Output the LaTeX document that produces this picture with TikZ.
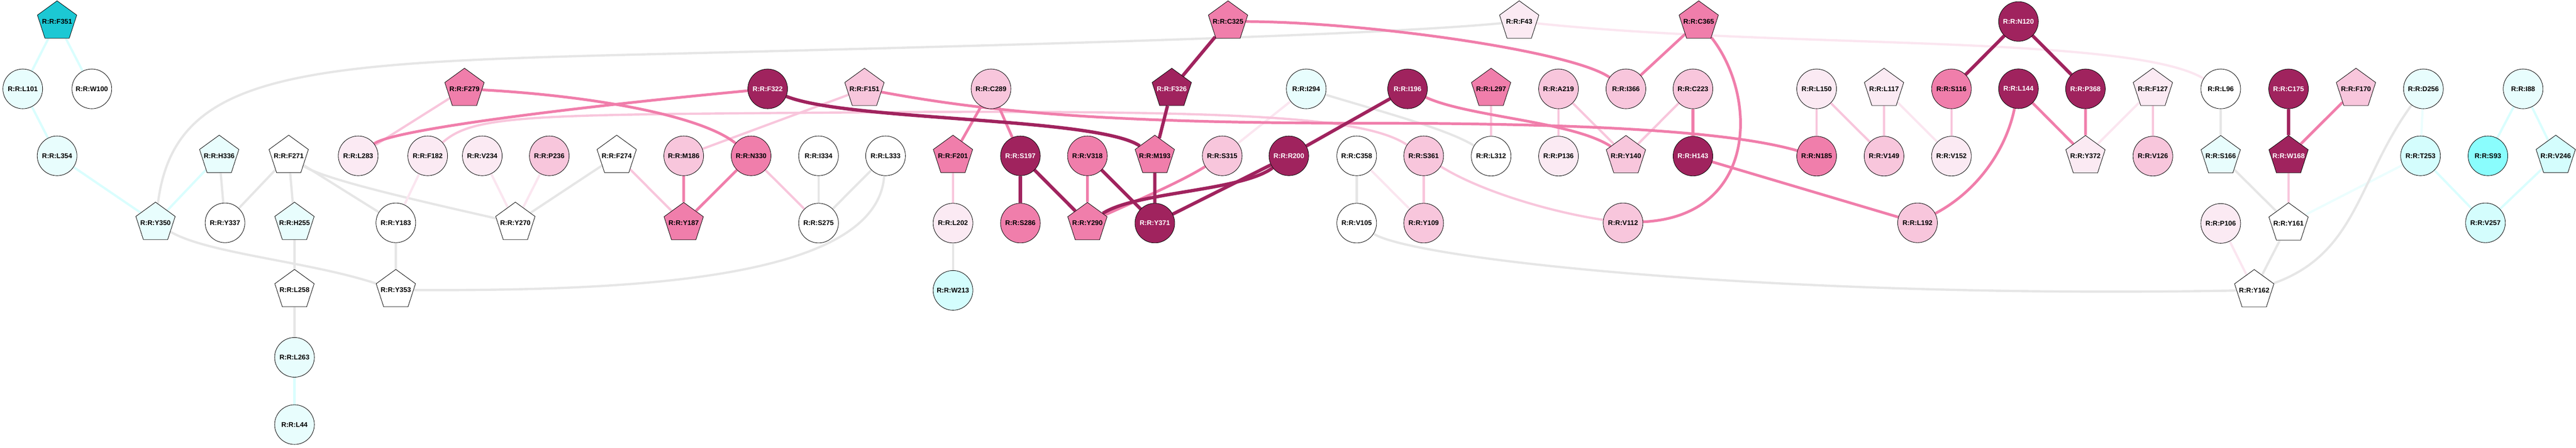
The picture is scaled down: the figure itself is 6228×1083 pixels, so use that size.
\documentclass[tikz,border=0pt]{standalone}
\usepackage{fontspec}
\setmainfont{Liberation Sans}
\usetikzlibrary{positioning,shapes.geometric,backgrounds}

\definecolor{cyfullc}{HTML}{1CC8D4}
\definecolor{cymdc}{HTML}{8AFDFD}
\definecolor{cyltc}{HTML}{D4FDFD}
\definecolor{cyvlc}{HTML}{E8FDFD}
\definecolor{pkvlc}{HTML}{FBEAF3}
\definecolor{pkltc}{HTML}{F8C6DC}
\definecolor{pkmdc}{HTML}{F07EAB}
\definecolor{pkdkc}{HTML}{A0235E}
\definecolor{edgegray}{HTML}{E6E6E6}
\definecolor{edgecyan}{HTML}{DAFEFE}
\definecolor{edgecyanvl}{HTML}{ECFEFE}
\definecolor{edgepinkvl}{HTML}{FBE6F0}

\tikzset{
  res/.style={circle, draw=black, line width=0.6pt, minimum size=19.2mm, inner sep=0pt,
    font=\fontsize{9.4}{11}\selectfont\bfseries, fill=white},
  pent/.style={res, regular polygon, regular polygon sides=5, inner xsep=-4mm, minimum size=20mm},
  wht/.style={fill=white},
  cyvl/.style={fill=cyvlc},
  cylt/.style={fill=cyltc},
  cymd/.style={fill=cymdc},
  cyfull/.style={fill=cyfullc},
  pkvl/.style={fill=pkvlc},
  pklt/.style={fill=pkltc},
  pkmd/.style={fill=pkmdc},
  pkdk/.style={fill=pkdkc, text=white},
  eg/.style={draw=edgegray, line width=1.1mm},
  ec/.style={draw=edgecyan, line width=1.1mm},
  ecv/.style={draw=edgecyanvl, line width=1.1mm},
  epv/.style={draw=edgepinkvl, line width=1.1mm},
  epl/.style={draw=pkltc, line width=1.1mm},
  epm/.style={draw=pkmdc, line width=1.3mm},
  epd/.style={draw=pkdkc, line width=1.6mm}
}

\begin{document}
\begin{tikzpicture}[x=0.2mm, y=0.2mm, node distance=32.54mm]
      \useasboundingbox (0,0) rectangle (6228,1083);

      \node[pent, cyfull] (f351) at (138,1031) {R:R:F351};
      \node[pent, pkmd] (c325) at (2969,1031) {R:R:C325};
      \node[pent, pkvl] (f43) at (3673,1031) {R:R:F43};
      \node[pent, pkmd] (c365) at (4107,1031) {R:R:C365};
      \node[res, pkdk] (n120) at (4880,1031) {R:R:N120};

      \node[res, cyvl] (l101) at (55,868) {R:R:L101};
      \node[res, wht] (w100) at (222,868) {R:R:W100};
      \node[pent, pkmd] (f279) at (1123,868) {R:R:F279};
      \node[res, pkdk] (f322) at (1856,868) {R:R:F322};
      \node[pent, pklt] (f151) at (2090,868) {R:R:F151};
      \node[res, pklt] (c289) at (2396,868) {R:R:C289};
      \node[pent, pkdk] (f326) at (2833,868) {R:R:F326};
      \node[res, cyvl] (i294) at (3158,868) {R:R:I294};
      \node[res, pkdk] (i196) at (3403,868) {R:R:I196};
      \node[pent, pkmd] (l297) at (3605,868) {R:R:L297};
      \node[res, pklt] (a219) at (3768,868) {R:R:A219};
      \node[res, pklt] (i366) at (3931,868) {R:R:I366};
      \node[res, pklt] (c223) at (4093,868) {R:R:C223};
      \node[res, pkvl] (l150) at (4392,868) {R:R:L150};
      \node[pent, pkvl] (l117) at (4555,868) {R:R:L117};
      \node[res, pkmd] (s116) at (4718,868) {R:R:S116};
      \node[res, pkdk, below of=n120] (l144) {R:R:L144};
      \node[res, pkdk] (p368) at (5042,868) {R:R:P368};
      \node[pent, pkvl] (f127) at (5205,868) {R:R:F127};
      \node[res, wht] (l96) at (5369,868) {R:R:L96};
      \node[res, pkdk] (c175) at (5533,868) {R:R:C175};
      \node[pent, pklt] (f170) at (5696,868) {R:R:F170};
      \node[res, cyvl] (d256) at (5859,868) {R:R:D256};
      \node[res, cyvl] (i88) at (6100,868) {R:R:I88};

      \node[res, cyvl] (l354) at (138,706) {R:R:L354};
      \node[pent, cyvl] (h336) at (530,706) {R:R:H336};
      \node[pent, wht] (f271) at (698,706) {R:R:F271};
      \node[res, pkvl] (l283) at (866,706) {R:R:L283};
      \node[res, pkvl] (f182) at (1034,706) {R:R:F182};
      \node[res, pkvl] (v234) at (1166,706) {R:R:V234};
      \node[res, pklt] (p236) at (1328,706) {R:R:P236};
      \node[pent, wht] (f274) at (1491,706) {R:R:F274};
      \node[res, pklt] (m186) at (1653,706) {R:R:M186};
      \node[res, pkmd] (n330) at (1816,706) {R:R:N330};
      \node[res, wht] (i334) at (1979,706) {R:R:I334};
      \node[res, wht] (l333) at (2141,706) {R:R:L333};
      \node[pent, pkmd] (f201) at (2304,706) {R:R:F201};
      \node[res, pkdk] (s197) at (2467,706) {R:R:S197};
      \node[res, pkmd] (v318) at (2629,706) {R:R:V318};
      \node[pent, pkmd] (m193) at (2792,706) {R:R:M193};
      \node[res, pklt] (s315) at (2955,706) {R:R:S315};
      \node[res, pkdk] (r200) at (3116,706) {R:R:R200};
      \node[res, wht] (c358) at (3280,706) {R:R:C358};
      \node[res, pklt] (s361) at (3442,706) {R:R:S361};
      \node[res, wht, below of=l297] (l312) {R:R:L312};
      \node[res, pkvl, below of=a219] (p136) {R:R:P136};
      \node[pent, pklt, below of=i366] (y140) {R:R:Y140};
      \node[res, pkdk, below of=c223] (h143) {R:R:H143};
      \node[res, pkmd, below of=l150] (n185) {R:R:N185};
      \node[res, pklt, below of=l117] (v149) {R:R:V149};
      \node[res, pkvl, below of=s116] (v152) {R:R:V152};
      \node[pent, pkvl, below of=p368] (y372) {R:R:Y372};
      \node[res, pklt, below of=f127] (v126) {R:R:V126};
      \node[pent, cyvl, below of=l96] (s166) {R:R:S166};
      \node[pent, pkdk, below of=c175] (w168) {R:R:W168};
      \node[res, cylt] (t253) at (5852,706) {R:R:T253};
      \node[res, cymd] (s93) at (6015,706) {R:R:S93};
      \node[pent, cylt] (v246) at (6179,706) {R:R:V246};

      \node[pent, cyvl] (y350) at (376,544) {R:R:Y350};
      \node[res, wht] (y337) at (544,544) {R:R:Y337};
      \node[pent, cyvl] (h255) at (712,544) {R:R:H255};
      \node[res, wht] (y183) at (957,544) {R:R:Y183};
      \node[pent, wht] (y270) at (1246,544) {R:R:Y270};
      \node[pent, pkmd, below of=m186] (y187) {R:R:Y187};
      \node[res, wht, below of=i334] (s275) {R:R:S275};
      \node[res, pkvl, below of=f201] (l202) {R:R:L202};
      \node[res, pkmd, below of=s197] (s286) {R:R:S286};
      \node[pent, pkmd, below of=v318] (y290) {R:R:Y290};
      \node[res, pkdk, below of=m193] (y371) {R:R:Y371};
      \node[res, wht, below of=c358] (v105) {R:R:V105};
      \node[res, pklt, below of=s361] (y109) {R:R:Y109};
      \node[res, pklt] (v112) at (3924,544) {R:R:V112};
      \node[res, pklt] (l192) at (4636,544) {R:R:L192};
      \node[res, pkvl, below of=s166] (p106) {R:R:P106};
      \node[pent, wht, below of=w168] (y161) {R:R:Y161};
      \node[res, cylt] (v257) at (6009,544) {R:R:V257};

      \node[pent, wht, below of=h255] (l258) {R:R:L258};
      \node[pent, wht, below of=y183] (y353) {R:R:Y353};
      \node[res, cylt, below of=l202] (w213) {R:R:W213};
      \node[pent, wht] (y162) at (5450,381) {R:R:Y162};
      \node[res, cyvl, below of=l258] (l263) {R:R:L263};
      \node[res, cyvl, below of=l263] (l44) {R:R:L44};

      \begin{scope}[on background layer]
      \draw[ec] (f351)--(l101);
      \draw[ec] (f351)--(w100);
      \draw[ec] (l101)--(l354);
      \draw[ec] (l354)--(y350);
      \draw[ec] (h336)--(y350);
      \draw[ec] (l263)--(l44);
      \draw[ec] (i88)--(s93);
      \draw[ec] (i88)--(v246);
      \draw[ec] (t253)--(v257);
      \draw[ec] (v246)--(v257);
      \draw[ecv] (d256)--(t253);
      \draw[ecv] (t253)--(y161);

      \draw[eg] (h336)--(y337);
      \draw[eg] (f271)--(y337);
      \draw[eg] (f271)--(h255);
      \draw[eg] (f271)--(y183);
      \draw[eg] (h255)--(l258);
      \draw[eg] (l258)--(l263);
      \draw[eg] (y183)--(y353);
      \draw[eg] (f274)--(y270);
      \draw[eg] (i334)--(s275);
      \draw[eg] (l333)--(s275);
      \draw[eg] (l202)--(w213);
      \draw[eg] (c358)--(v105);
      \draw[eg] (l96)--(s166);
      \draw[eg] (s166)--(y161);
      \draw[eg] (y161)--(y162);
      \draw[eg] (f271) .. controls (780,650) and (1000,600) .. (y270);
      \draw[eg] (y350) .. controls (500,470) and (750,450) .. (y353);
      \draw[eg] (y350) .. controls (420,900) and (700,930) .. (1500,950)
                       .. controls (2300,970) and (3300,995) .. (f43);
      \draw[eg] (y353) .. controls (1500,380) and (2120,400) .. (l333);
      \draw[eg] (i294) .. controls (3350,810) and (3500,770) .. (l312);
      \draw[eg] (v105) .. controls (3420,455) and (4300,360) .. (y162);
      \draw[eg] (d256) .. controls (5700,650) and (5700,470) .. (y162);

      \draw[epv] (f182)--(y183);
      \draw[epv] (v234)--(y270);
      \draw[epv] (p236)--(y270);
      \draw[epv] (i294)--(s315);
      \draw[epv] (c358)--(y109);
      \draw[epv] (l117)--(v152);
      \draw[epv] (f127)--(y372);
      \draw[epv] (p106)--(y162);
      \draw[epv] (f43) .. controls (4300,965) and (5150,1000) .. (l96);

      \draw[epl] (l283)--(f279);
      \draw[epl] (m186)--(f151);
      \draw[epl] (f274)--(y187);
      \draw[epl] (n330)--(s275);
      \draw[epl] (f201)--(l202);
      \draw[epl] (l297)--(l312);
      \draw[epl] (a219)--(p136);
      \draw[epl] (a219)--(y140);
      \draw[epl] (c223)--(y140);
      \draw[epl] (s361)--(y109);
      \draw[epl] (l150)--(n185);
      \draw[epl] (l150)--(v149);
      \draw[epl] (l117)--(v149);
      \draw[epl] (s116)--(v152);
      \draw[epl] (f127)--(v126);
      \draw[epl] (w168)--(y161);
      \draw[epl] (f182) .. controls (1150,810) and (1300,805) .. (2200,812)
                        .. controls (3000,815) and (3300,800) .. (s361);
      \draw[epl] (s361) .. controls (3580,620) and (3750,570) .. (v112);

      \draw[epm] (c289)--(f201);
      \draw[epm] (c289)--(s197);
      \draw[epm] (v318)--(y290);
      \draw[epm] (m186)--(y187);
      \draw[epm] (n330)--(y187);
      \draw[epm] (c365)--(i366);
      \draw[epm] (c223)--(h143);
      \draw[epm] (h143)--(l192);
      \draw[epm] (l144)--(y372);
      \draw[epm] (p368)--(y372);
      \draw[epm] (f170)--(w168);
      \draw[epm] (l283) .. controls (950,770) and (1400,825) .. (f322);
      \draw[epm] (f279) .. controls (1450,850) and (1700,800) .. (n330);
      \draw[epm] (c325) .. controls (3300,1030) and (3800,960) .. (i366);
      \draw[epm] (c365) .. controls (4250,850) and (4250,560) .. (v112);
      \draw[epm] (f151) .. controls (2400,810) and (2700,785) .. (3300,785)
                        .. controls (3900,785) and (4200,760) .. (n185);
      \draw[epm] (i196) .. controls (3550,800) and (3800,790) .. (y140);
      \draw[epm] (s315) .. controls (2850,640) and (2730,590) .. (y290);
      \draw[epm] (l144) .. controls (4850,720) and (4780,620) .. (l192);

      \draw[epd] (c325)--(f326);
      \draw[epd] (f326)--(m193);
      \draw[epd] (s197)--(s286);
      \draw[epd] (s197)--(y290);
      \draw[epd] (v318)--(y371);
      \draw[epd] (m193)--(y371);
      \draw[epd] (r200)--(y371);
      \draw[epd] (i196)--(r200);
      \draw[epd] (n120)--(s116);
      \draw[epd] (n120)--(p368);
      \draw[epd] (c175)--(w168);
      \draw[epd] (f322) .. controls (2050,790) and (2650,800) .. (m193);
      \draw[epd] (r200) .. controls (3000,620) and (2750,620) .. (y290);
      \end{scope}
    \end{tikzpicture}
\end{document}
